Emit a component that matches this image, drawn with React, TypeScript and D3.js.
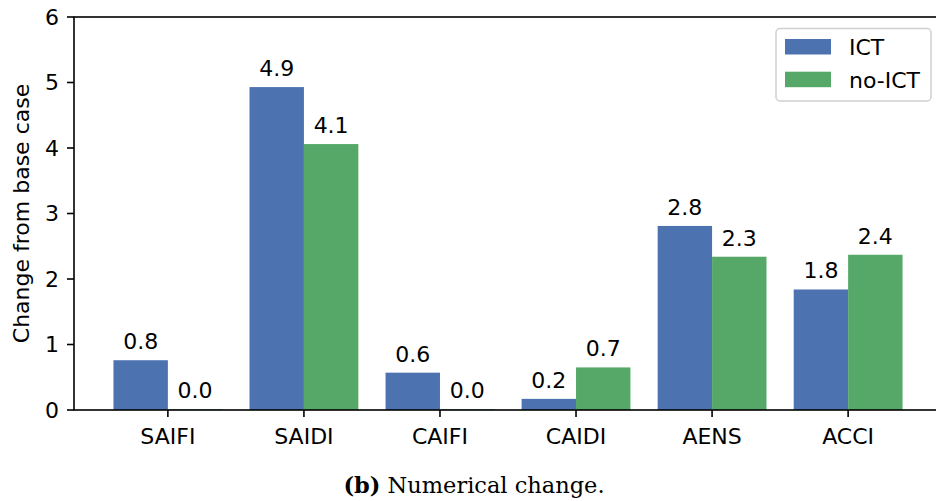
import React from "react";
import * as d3 from "d3";

// Reliability indices and their change from the base case
const categories = ["SAIFI", "SAIDI", "CAIFI", "CAIDI", "AENS", "ACCI"];
const ictValues = [0.76, 4.93, 0.57, 0.17, 2.81, 1.84];
const noIctValues = [0.01, 4.06, 0.01, 0.65, 2.34, 2.37];
const seriesNames = ["ICT", "no-ICT"];
const seriesColors = ["#4C72B0", "#55A868"];
const yTicks = [0, 1, 2, 3, 4, 5, 6];
const yLabel = "Change from base case";
const captionBold = "(b)";
const captionText = "Numerical change.";

const W = 936;
const H = 501;
const FONT = "'DejaVu Sans', sans-serif";
const FS = 22;

export default function App() {
  const x = d3.scaleLinear().domain([-0.69, 5.69]).range([74, 942]);
  const y = d3.scaleLinear().domain([0, 6]).range([410, 17]);
  const barW = x(0.4) - x(0);
  const series = [ictValues, noIctValues];
  const offsets = [-0.4, 0];
  const left = x.range()[0];
  const right = x.range()[1];
  const top = y(6);
  const bottom = y(0);

  return (
    <svg
      width={W}
      height={H}
      style={{ position: "absolute", left: 0, top: 0, background: "#fff" }}
      fontFamily={FONT}
    >
      <rect x={0} y={0} width={W} height={H} fill="#fff" />
      {/* bars */}
      {series.map((vals, s) =>
        vals.map((v, i) => (
          <rect
            key={`b-${s}-${i}`}
            x={x(i + offsets[s])}
            y={y(v)}
            width={barW}
            height={y(0) - y(v)}
            fill={seriesColors[s]}
          />
        ))
      )}
      {/* value labels */}
      {series.map((vals, s) =>
        vals.map((v, i) => (
          <text
            key={`l-${s}-${i}`}
            x={x(i + offsets[s]) + barW / 2}
            y={y(v) - 11}
            textAnchor="middle"
            fontSize={FS}
            fill="#000"
          >
            {v.toFixed(1)}
          </text>
        ))
      )}
      {/* spines */}
      <rect
        x={left}
        y={top}
        width={right - left}
        height={bottom - top}
        fill="none"
        stroke="#000"
        strokeWidth={1.6}
      />
      {/* y ticks */}
      {yTicks.map((t) => (
        <g key={`yt-${t}`}>
          <line x1={left - 7} x2={left} y1={y(t)} y2={y(t)} stroke="#000" strokeWidth={1.6} />
          <text x={left - 15} y={y(t)} dy="0.36em" textAnchor="end" fontSize={FS} fill="#000">
            {t}
          </text>
        </g>
      ))}
      {/* x ticks */}
      {categories.map((c, i) => (
        <g key={`xt-${c}`}>
          <line x1={x(i)} x2={x(i)} y1={bottom} y2={bottom + 7} stroke="#000" strokeWidth={1.6} />
          <text x={x(i)} y={bottom + 34} textAnchor="middle" fontSize={FS} fill="#000">
            {c}
          </text>
        </g>
      ))}
      {/* y axis title */}
      <text
        transform={`translate(29,${(top + bottom) / 2}) rotate(-90)`}
        textAnchor="middle"
        fontSize={FS}
        fill="#000"
      >
        {yLabel}
      </text>
      {/* legend */}
      <g>
        <rect
          x={776}
          y={28.5}
          width={155}
          height={72.5}
          rx={4}
          fill="#fff"
          fillOpacity={0.8}
          stroke="#d0d0d0"
          strokeWidth={1.5}
        />
        {seriesNames.map((n, s) => (
          <g key={`lg-${n}`}>
            <rect x={785} y={39 + s * 32.7} width={46} height={15.5} fill={seriesColors[s]} />
            <text x={849} y={55 + s * 32.7} fontSize={FS} fill="#000">
              {n}
            </text>
          </g>
        ))}
      </g>
      {/* caption */}
      <text
        x={474}
        y={493}
        textAnchor="middle"
        fontSize={22.5}
        fontFamily="'DejaVu Serif', serif"
        fill="#000"
      >
        <tspan fontWeight="bold">{captionBold}</tspan>
        <tspan> {captionText}</tspan>
      </text>
    </svg>
  );
}
